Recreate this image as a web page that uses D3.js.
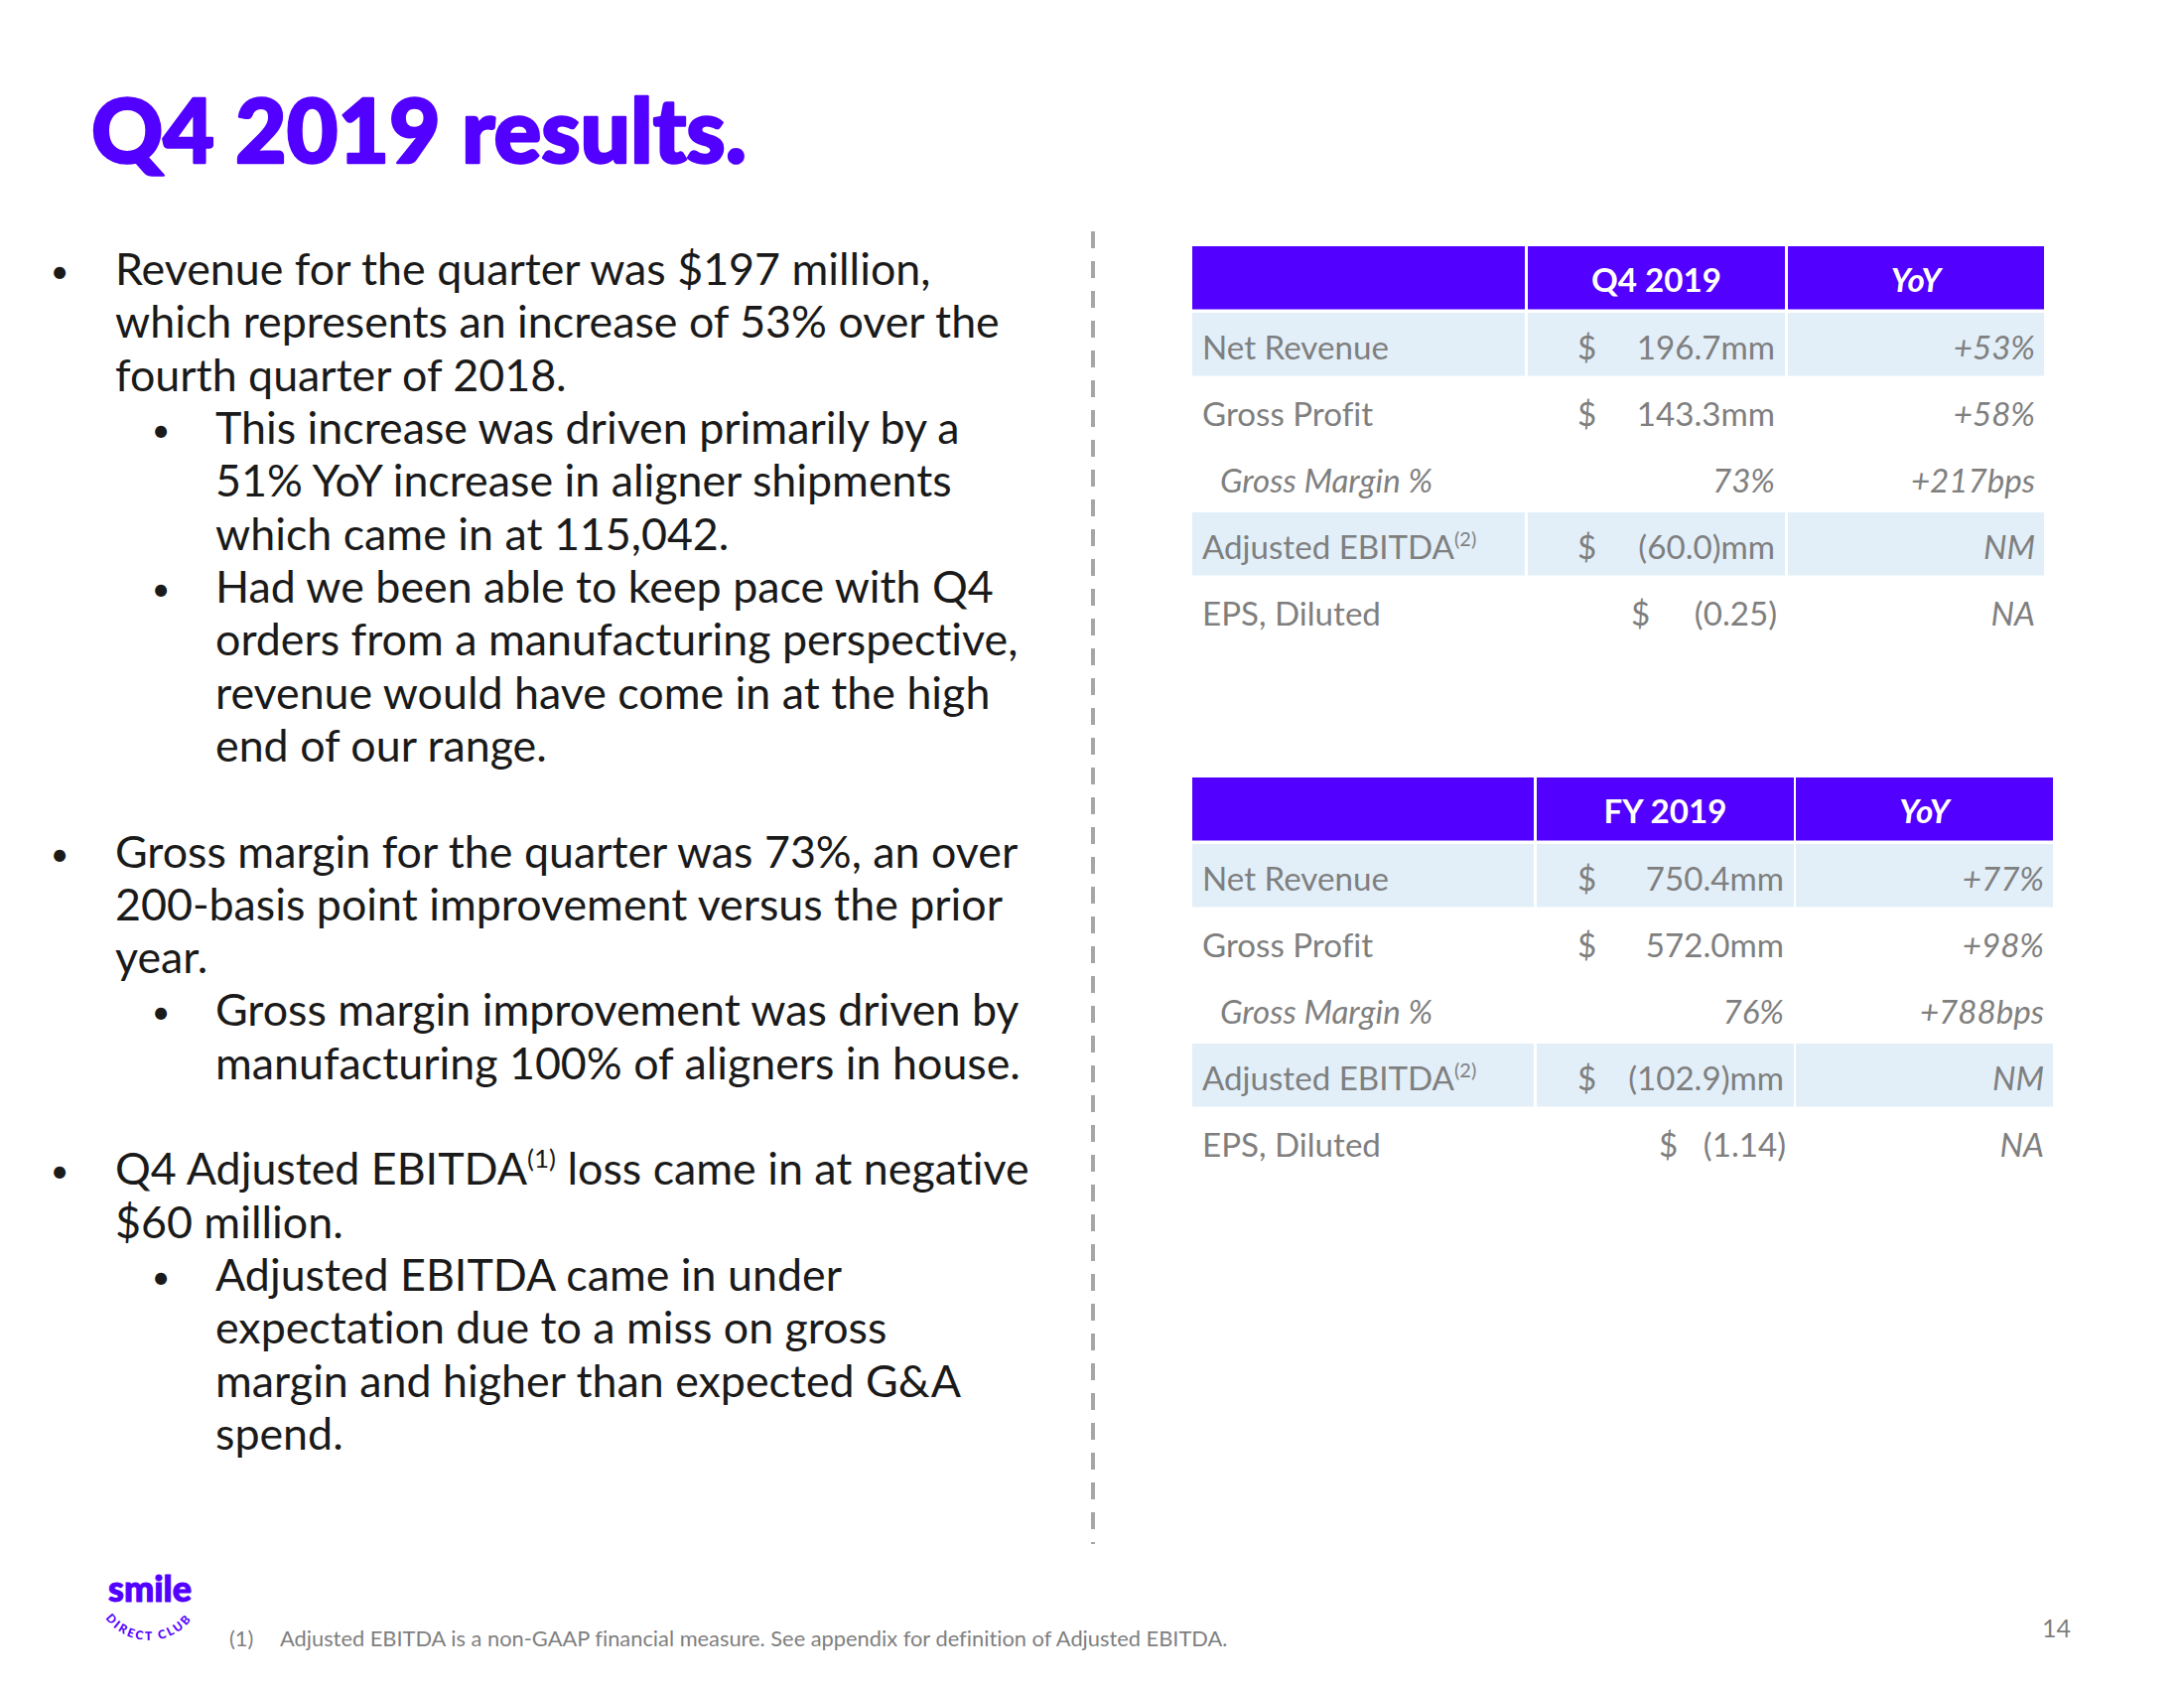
<!DOCTYPE html>
<html><head><meta charset="utf-8">
<script src="https://cdn.jsdelivr.net/npm/d3@7"></script>
<style>body{margin:0;background:#fff}svg{display:block}text{font-variant-ligatures:none;font-feature-settings:"liga" 0}</style>
</head><body>
<svg id="c" width="2200" height="1700"></svg>
<script>
// ---------- data ----------
const titleText = "Q4 2019 results.";
const rowLabels = ["Net Revenue", "Gross Profit", "Gross Margin %", "Adjusted EBITDA", "EPS, Diluted"];
const rowSup = ["", "", "", "(2)", ""];
const rowItalic = [false, false, true, false, false];
const rowDollar = ["$", "$", "", "$", "$"];
const q4Header = ["", "Q4 2019", "YoY"];
const q4Values = ["196.7mm", "143.3mm", "73%", "(60.0)mm", "(0.25)"];
const q4Yoy = ["+53%", "+58%", "+217bps", "NM", "NA"];
const fyHeader = ["", "FY 2019", "YoY"];
const fyValues = ["750.4mm", "572.0mm", "76%", "(102.9)mm", "(1.14)"];
const fyYoy = ["+77%", "+98%", "+788bps", "NM", "NA"];

const bulletText = [
  "Revenue for the quarter was $197 million,",
  "which represents an increase of 53% over the",
  "fourth quarter of 2018.",
  "This increase was driven primarily by a",
  "51% YoY increase in aligner shipments",
  "which came in at 115,042.",
  "Had we been able to keep pace with Q4",
  "orders from a manufacturing perspective,",
  "revenue would have come in at the high",
  "end of our range.",
  "",
  "Gross margin for the quarter was 73%, an over",
  "200-basis point improvement versus the prior",
  "year.",
  "Gross margin improvement was driven by",
  "manufacturing 100% of aligners in house.",
  "",
  "Q4 Adjusted EBITDA^(1) loss came in at negative",
  "$60 million.",
  "Adjusted EBITDA came in under",
  "expectation due to a miss on gross",
  "margin and higher than expected G&A",
  "spend."
];
const bulletLevel = [0,0,0,1,1,1,1,1,1,1,0,0,0,0,1,1,0,0,0,1,1,1,1];
const bulletMark  = [1,0,0,1,0,0,1,0,0,0,0,1,0,0,1,0,0,1,0,1,0,0,0];
const footnoteNum = "(1)";
const footnoteText = "Adjusted EBITDA is a non-GAAP financial measure. See appendix for definition of Adjusted EBITDA.";
const pageNumber = "14";

// ---------- style ----------
const PURPLE = "#5200ff", LIGHT = "#e2eff9", GRAY = "#7f7f7f", DARK = "#1a1a1a";
const FONT = "Lato, 'Open Sans', sans-serif";

const svg = d3.select("#c");
svg.append("rect").attr("width", 2200).attr("height", 1700).attr("fill", "#fff");

function measure(txt, size, weight, style) {
  const t = svg.append("text").attr("font-family", FONT).attr("font-size", size)
    .attr("font-weight", weight || 400).attr("font-style", style || "normal").text(txt);
  const w = t.node().getComputedTextLength(); t.remove(); return w;
}
function fit(txt, target, weight, style) { return 100 * target / measure(txt, 100, weight, style); }

// ---------- title ----------
const titleSize = fit(titleText, 660, 900);
svg.append("text").attr("x", 92).attr("y", 164).attr("font-family", FONT)
  .attr("font-weight", 900).attr("font-size", titleSize).attr("fill", PURPLE)
  .attr("stroke", PURPLE).attr("stroke-width", 2.5).attr("stroke-linejoin", "round").text(titleText);

// ---------- bullets ----------
const bSize = fit(bulletText[1], 891, 400);
const yLine = d3.scaleLinear().domain([0, bulletText.length - 1]).range([287, 1460]);
const xText = d3.scaleOrdinal().domain([0, 1]).range([116, 217]);
const xBullet = d3.scaleOrdinal().domain([0, 1]).range([60, 162]);
const bg = svg.append("g").attr("font-family", FONT).attr("font-size", bSize).attr("fill", DARK);
bulletText.forEach((s, i) => {
  if (!s) return;
  if (bulletMark[i]) bg.append("text").attr("x", xBullet(bulletLevel[i])).attr("y", yLine(i) - 2)
    .attr("text-anchor", "middle").attr("font-size", bSize * 0.72).text("•");
  const t = bg.append("text").attr("x", xText(bulletLevel[i])).attr("y", yLine(i));
  const parts = s.split(/\^(\([^)]*\))/);
  parts.forEach((p, k) => {
    if (k % 2 === 1) t.append("tspan").attr("font-size", bSize * 0.58).attr("dy", -bSize * 0.38).text(p);
    else if (k > 0) t.append("tspan").attr("dy", bSize * 0.38).text(p);
    else t.append("tspan").text(p);
  });
});

// dashed divider
svg.append("line").attr("x1", 1101).attr("x2", 1101).attr("y1", 233).attr("y2", 1555)
  .attr("stroke", "#a6a6a6").attr("stroke-width", 4).attr("stroke-dasharray", "17,13");

// ---------- tables ----------
const tSize = fit("Net Revenue", 188, 400);
function drawTable(top, edges, header, values, yoy, epsDollarX) {
  const g = svg.append("g").attr("font-family", FONT);
  const y = d3.scaleBand().domain(d3.range(6)).range([top, top + 67 * 5.948]).paddingInner(0.052);
  const x0 = edges[0][0];
  d3.range(6).forEach(r => {
    const fill = r === 0 ? PURPLE : (r === 1 || r === 4) ? LIGHT : null;
    if (!fill) return;
    edges.forEach(e => g.append("rect").attr("x", e[0]).attr("y", y(r))
      .attr("width", e[1] - e[0]).attr("height", y.bandwidth()).attr("fill", fill));
  });
  header.forEach((h, c) => {
    if (!h) return;
    g.append("text").attr("x", (edges[c][0] + edges[c][1]) / 2).attr("y", y(0) + y.bandwidth() / 2 + 14)
      .attr("text-anchor", "middle").attr("font-weight", 700).attr("font-size", tSize)
      .attr("font-style", c === 2 ? "italic" : "normal").attr("fill", "#fff").text(h);
  });
  rowLabels.forEach((lab, i) => {
    const by = y(i + 1) + y.bandwidth() / 2 + 15;
    const t = g.append("text").attr("x", x0 + (rowItalic[i] ? 28 : 10)).attr("y", by)
      .attr("font-size", tSize).attr("fill", GRAY).attr("font-style", rowItalic[i] ? "italic" : "normal");
    t.append("tspan").text(lab);
    if (rowSup[i]) t.append("tspan").attr("font-size", tSize * 0.6).attr("dy", -tSize * 0.38).text(rowSup[i]);
    if (rowDollar[i]) g.append("text").attr("x", i === 4 ? epsDollarX : 1589).attr("y", by)
      .attr("font-size", tSize).attr("fill", GRAY).text(rowDollar[i]);
    g.append("text").attr("x", edges[1][1] - (i === 4 ? 8 : 10)).attr("y", by).attr("text-anchor", "end")
      .attr("font-size", tSize).attr("fill", GRAY).attr("font-style", rowItalic[i] ? "italic" : "normal")
      .text(values[i]);
    g.append("text").attr("x", edges[2][1] - 9).attr("y", by).attr("text-anchor", "end")
      .attr("font-size", tSize).attr("fill", GRAY).attr("font-style", "italic").text(yoy[i]);
  });
}
drawTable(248, [[1201, 1536], [1539, 1798], [1801, 2059]], q4Header, q4Values, q4Yoy, 1643);
drawTable(783, [[1201, 1545], [1548, 1807], [1809, 2068]], fyHeader, fyValues, fyYoy, 1671);

// ---------- footer ----------
const fSize = fit(footnoteText, 955, 400);
svg.append("text").attr("x", 231).attr("y", 1658).attr("font-family", FONT).attr("font-size", fSize)
  .attr("fill", GRAY).text(footnoteNum);
svg.append("text").attr("x", 282).attr("y", 1658).attr("font-family", FONT).attr("font-size", fSize)
  .attr("fill", GRAY).text(footnoteText);
svg.append("text").attr("x", 2086).attr("y", 1649).attr("text-anchor", "end").attr("font-family", FONT)
  .attr("font-size", 25).attr("fill", GRAY).text(pageNumber);

// logo
const lSize = fit("smile", 84, 900);
svg.append("text").attr("x", 109).attr("y", 1613).attr("font-family", FONT).attr("font-weight", 900)
  .attr("font-size", lSize).attr("fill", PURPLE).attr("stroke", PURPLE).attr("stroke-width", 1)
  .text("smile");
const cx = 150, cy = 1598, r = 54, a0 = 170 * Math.PI / 180, a1 = 10 * Math.PI / 180;
svg.append("path").attr("id", "logoArc").attr("fill", "none")
  .attr("d", `M${cx + r * Math.cos(a0)},${cy + r * Math.sin(a0)} A${r},${r} 0 0,0 ${cx + r * Math.cos(a1)},${cy + r * Math.sin(a1)}`);
svg.append("text").attr("font-family", FONT).attr("font-weight", 900).attr("font-size", 12)
  .attr("letter-spacing", 2.4).attr("fill", PURPLE)
  .append("textPath").attr("href", "#logoArc").attr("startOffset", "50%").attr("text-anchor", "middle")
  .text("DIRECT CLUB");
</script>
</body></html>
